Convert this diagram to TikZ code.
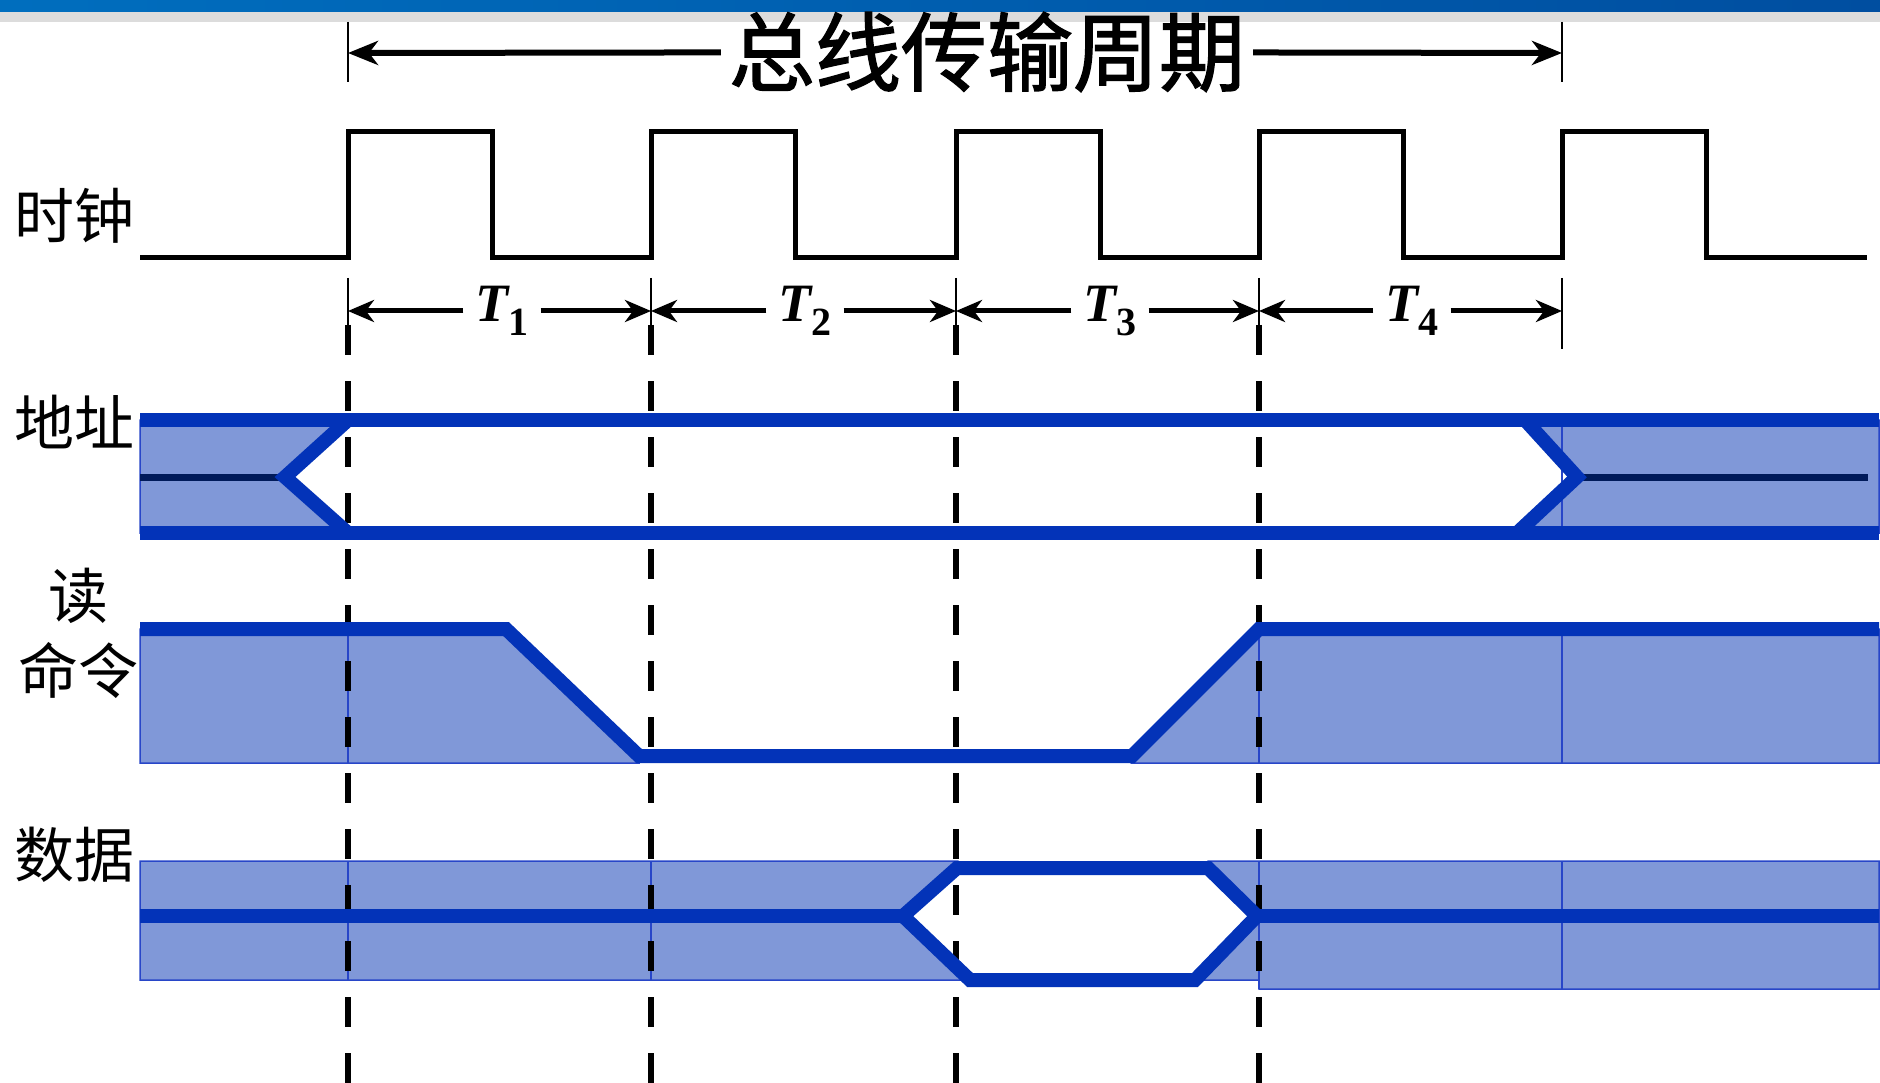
\documentclass[tikz,border=0pt]{standalone}
\usepackage{fontspec}
\newfontfamily\cjk{Noto Sans CJK SC}
\newfontfamily\cjktitle{Noto Sans CJK SC}[FakeBold=1.6]
\newfontfamily\tfont{Liberation Serif}
\usetikzlibrary{arrows.meta}
\definecolor{busblue}{RGB}{3,51,184}
\definecolor{busfill}{RGB}{128,152,216}
\definecolor{navyline}{RGB}{0,26,90}
\definecolor{edgeblue}{RGB}{40,70,200}
\definecolor{barleft}{RGB}{0,110,190}
\definecolor{barright}{RGB}{0,78,160}
\definecolor{bargrey}{RGB}{220,220,220}
\tikzset{
  clk/.style={line width=5pt, black, line join=miter},
  busline/.style={line width=14pt, busblue, line join=miter},
  busarea/.style={fill=busfill, draw=edgeblue, line width=1.5pt},
  midline/.style={line width=7pt, navyline},
  guide/.style={line width=6pt, black, dash pattern=on 30pt off 26pt},
  thintick/.style={line width=1.6pt, black},
  dimarrow/.style={line width=5pt, -{Stealth[length=26pt,width=22pt,inset=8pt]}},
  titlearrow/.style={line width=6pt, -{Stealth[length=30pt,width=24pt,inset=9pt]}},
  sigtext/.style={font=\cjk\fontsize{60}{75}\selectfont, align=center, inner sep=0pt},
  tlabel/.style={inner sep=12pt, font=\tfont\bfseries\fontsize{54}{60}\selectfont}
}
\newcommand{\Tsub}[1]{\itshape T\upshape\raisebox{-14pt}{\fontsize{40}{42}\selectfont #1}}
\begin{document}
\begin{tikzpicture}[x=1pt,y=-1pt]
\useasboundingbox (0,0) rectangle (1880,1083);
% top bar
\fill[left color=barleft, right color=barright] (0,0) rectangle (1880,12);
\fill[bargrey] (0,12) rectangle (1880,22);

% title
\node[font=\cjktitle\fontsize{86}{90}\selectfont, inner sep=8pt] (title) at (987,52) {总线传输周期};
\coordinate (tl) at (348,53);
\coordinate (tr) at (1562,53);
\draw[titlearrow] (title) -- (tl);
\draw[titlearrow] (title) -- (tr);
\draw[thintick] (348,22) -- (348,82);
\draw[thintick] (1562,22) -- (1562,82);

% labels
\node[sigtext] (lclk) at (74,216) {时钟};
\node[sigtext] (laddr) at (74,422) {地址};
\node[sigtext] (lrd) at (79,633) {读\\命令};
\node[sigtext] (ldata) at (74,855) {数据};

% clock
\draw[clk] (140,258) -- (348,258) -- (348,132) -- (492,132) -- (492,258)
  -- (651,258) -- (651,132) -- (795,132) -- (795,258)
  -- (956,258) -- (956,132) -- (1100,132) -- (1100,258)
  -- (1259,258) -- (1259,132) -- (1403,132) -- (1403,258)
  -- (1562,258) -- (1562,132) -- (1706,132) -- (1706,258) -- (1867,258);

% T period arrows
\foreach \x in {348,651,956,1259,1562} \draw[thintick] (\x,278) -- (\x,349);
\coordinate (a0) at (348,311);
\coordinate (a1) at (651,311);
\coordinate (a2) at (956,311);
\coordinate (a3) at (1259,311);
\coordinate (a4) at (1562,311);
\node[tlabel] (t1) at (502,311) {\Tsub{1}};
\node[tlabel] (t2) at (805,311) {\Tsub{2}};
\node[tlabel] (t3) at (1110,311) {\Tsub{3}};
\node[tlabel] (t4) at (1412,311) {\Tsub{4}};
\draw[dimarrow] (t1) -- (a0); \draw[dimarrow] (t1) -- (a1);
\draw[dimarrow] (t2) -- (a1); \draw[dimarrow] (t2) -- (a2);
\draw[dimarrow] (t3) -- (a2); \draw[dimarrow] (t3) -- (a3);
\draw[dimarrow] (t4) -- (a3); \draw[dimarrow] (t4) -- (a4);

% address fills
\filldraw[busarea] (140,420) -- (348,420) -- (285,477) -- (348,533) -- (140,533) -- cycle;
\filldraw[busarea] (1525,420) -- (1879,420) -- (1879,533) -- (1517,533) -- (1577,477) -- cycle;
\draw[edgeblue, line width=1.5pt] (1562,420) -- (1562,533);

% read command fills
\filldraw[busarea] (140,629) -- (506,629) -- (639,756) -- (639,763) -- (140,763) -- cycle;
\draw[edgeblue, line width=1.5pt] (348,629) -- (348,763);
\filldraw[busarea] (1132,763) -- (1259,629) -- (1879,629) -- (1879,763) -- cycle;
\draw[edgeblue, line width=1.5pt] (1259,629) -- (1259,763);
\draw[edgeblue, line width=1.5pt] (1562,629) -- (1562,763);

% data fills
\filldraw[busarea] (140,861) -- (957,861) -- (903,916) -- (970,980) -- (140,980) -- cycle;
\draw[edgeblue, line width=1.5pt] (348,861) -- (348,980);
\draw[edgeblue, line width=1.5pt] (651,861) -- (651,980);
\filldraw[busarea] (1208,861) -- (1879,861) -- (1879,989) -- (1259,989) -- (1259,980) -- (1195,980) -- (1257,916) -- (1208,868) -- cycle;
\draw[edgeblue, line width=1.5pt] (1259,861) -- (1259,989);
\draw[edgeblue, line width=1.5pt] (1562,861) -- (1562,989);

% dashed guides
\foreach \x in {348,651,956,1259} \draw[guide] (\x,325) -- (\x,1083);

% address lines
\draw[midline] (140,477) -- (285,477);
\draw[midline] (1577,477) -- (1868,477);
\draw[busline] (140,420) -- (1879,420);
\draw[busline] (140,533) -- (1879,533);
\draw[busline] (348,420) -- (285,477) -- (348,533);
\draw[busline] (1525,420) -- (1577,477) -- (1517,533);

% read command line
\draw[busline] (140,629) -- (506,629) -- (639,756) -- (1132,756) -- (1259,629) -- (1879,629);

% data lines
\draw[busline] (140,916) -- (903,916);
\draw[busline] (903,916) -- (957,868) -- (1208,868) -- (1257,916) -- (1195,980) -- (970,980) -- cycle;
\draw[busline] (1257,916) -- (1879,916);
\end{tikzpicture}
\end{document}
